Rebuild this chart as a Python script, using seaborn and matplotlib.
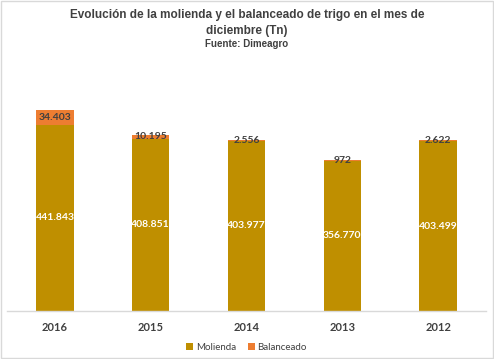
import matplotlib
matplotlib.use("Agg")
import matplotlib.pyplot as plt
import seaborn as sns
import pandas as pd
from matplotlib.patches import Rectangle

# datos (Tn)
anios = ["2016", "2015", "2014", "2013", "2012"]
molienda = [441843, 408851, 403977, 356770, 403499]
balanceado = [34403, 10195, 2556, 972, 2622]

def fmt(v):
    return f"{v:,}".replace(",", ".")

df = pd.DataFrame({"anio": anios, "molienda": molienda, "balanceado": balanceado})

sns.set_theme(style="white")
plt.rcParams["font.family"] = ["Lato", "DejaVu Sans"]

col_mol = "#BF8F00"
col_bal = "#ED7D31"
gris = "#404040"

fig = plt.figure(figsize=(4.94, 3.59), dpi=100)
ax = fig.add_axes([0.0142, 0.1337, 0.9696, 0.5865])

sns.barplot(data=df, x="anio", y="molienda", order=anios, color=col_mol,
            saturation=1, width=0.39, ax=ax, label="Molienda", linewidth=0)
sns.barplot(data=df, x="anio", y="balanceado", order=anios, color=col_bal,
            saturation=1, width=0.39, ax=ax, label="Balanceado", linewidth=0,
            bottom=df["molienda"].values)

ax.set_ylim(0, 500000)
ax.set_xlim(-0.5, len(anios) - 0.5)
ax.set_yticks([])
ax.set_xlabel("")
ax.set_ylabel("")
for s in ["top", "left", "right"]:
    ax.spines[s].set_visible(False)
ax.spines["bottom"].set_color("#D9D9D9")
ax.spines["bottom"].set_linewidth(1)
ax.tick_params(axis="x", length=0, pad=8, colors=gris)
for t in ax.get_xticklabels():
    t.set_fontweight("bold")
    t.set_fontsize(8)

# etiquetas
for i, (m, b) in enumerate(zip(molienda, balanceado)):
    ax.text(i, m / 2, fmt(m), ha="center", va="center", color="white",
            fontsize=7.5, fontweight="bold")
    ax.text(i, m + b / 2, fmt(b), ha="center", va="center", color=gris,
            fontsize=7.5, fontweight="bold")

leg = ax.legend(loc="upper center", bbox_to_anchor=(0.5, -0.11), ncol=2,
                frameon=False, fontsize=7, handlelength=0.7, handleheight=0.7,
                handletextpad=0.3, columnspacing=1.2)
for t in leg.get_texts():
    t.set_color(gris)

tfont = ["Liberation Sans", "DejaVu Sans"]
fig.text(0.5, 0.958, "Evolución de la molienda y el balanceado de trigo en el mes de",
         ha="center", va="center", color=gris, family=tfont, fontsize=8.5,
         fontweight="bold")
fig.text(0.5, 0.913, "diciembre (Tn)", ha="center", va="center", color=gris,
         family=tfont, fontsize=8.5, fontweight="bold")
fig.text(0.5, 0.877, "Fuente: Dimeagro", ha="center", va="center", color=gris,
         family=tfont, fontsize=7, fontweight="bold")

fig.patches.append(Rectangle((0.002, 0.002), 0.996, 0.996, transform=fig.transFigure,
                             fill=False, edgecolor="#D9D9D9", linewidth=1))

fig.savefig("out.png", dpi=100, facecolor="white")
